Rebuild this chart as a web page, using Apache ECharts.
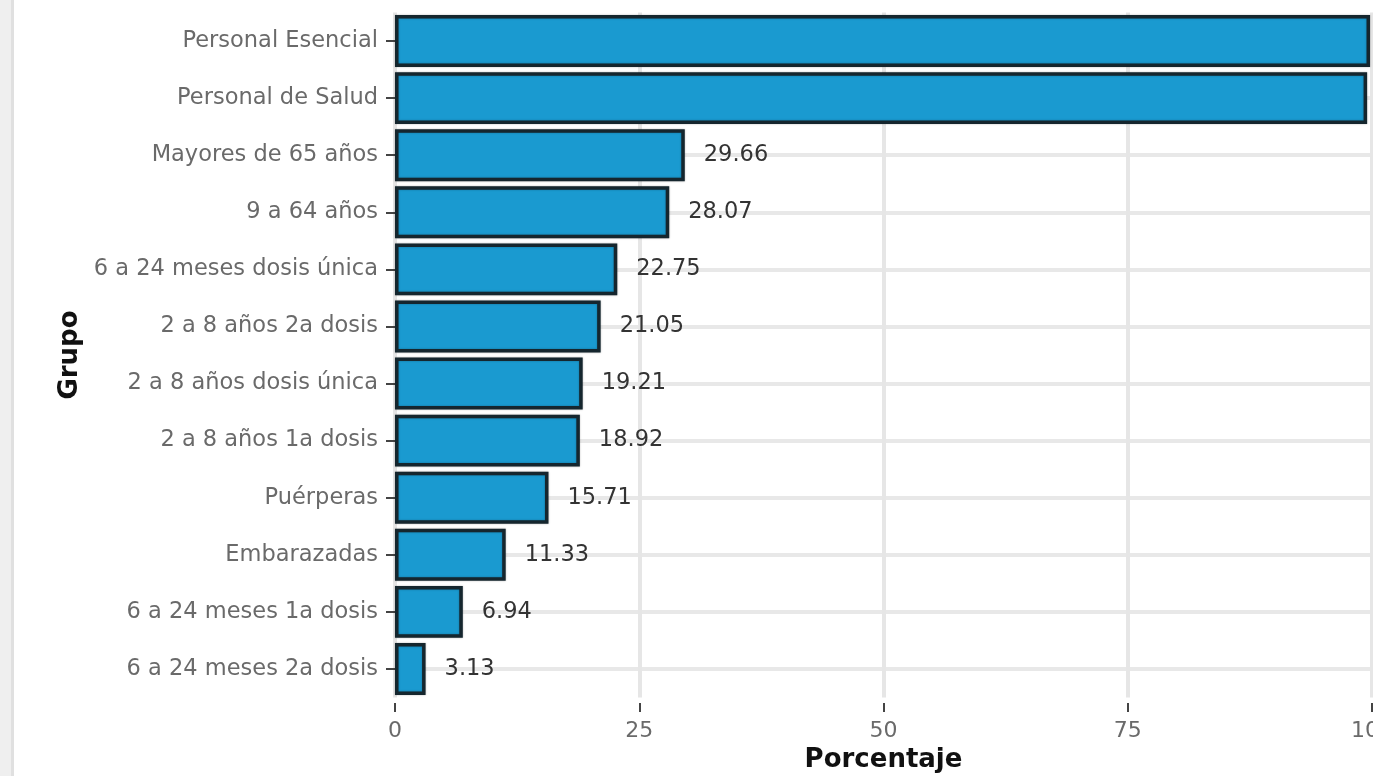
<!DOCTYPE html>
<html>
<head>
<meta charset="utf-8">
<script src="https://cdn.jsdelivr.net/npm/echarts@6/dist/echarts.min.js"></script>
<style>
html,body{margin:0;padding:0;background:#fff;}
#chart{width:1373px;height:776px;}
</style>
</head>
<body>
<div id="chart"></div>
<script>
const categories = ['Personal Esencial', 'Personal de Salud', 'Mayores de 65 años', '9 a 64 años',
  '6 a 24 meses dosis única', '2 a 8 años 2a dosis', '2 a 8 años dosis única', '2 a 8 años 1a dosis',
  'Puérperas', 'Embarazadas', '6 a 24 meses 1a dosis', '6 a 24 meses 2a dosis'];
const values = [99.8, 99.5, 29.66, 28.07, 22.75, 21.05, 19.21, 18.92, 15.71, 11.33, 6.94, 3.13];
const xTicks = [0, 25, 50, 75, 100];

const FONT = 'DejaVu Sans';
const chart = echarts.init(document.getElementById('chart'), null, {renderer: 'canvas'});
chart.setOption({
  animation: false,
  backgroundColor: '#ffffff',
  graphic: [
    {type: 'rect', left: 0, top: 0, shape: {width: 11, height: 776}, style: {fill: '#efefef'}, silent: true},
    {type: 'rect', left: 11, top: 0, shape: {width: 3, height: 776}, style: {fill: '#e0e0e0'}, silent: true}
  ],
  grid: {left: 395, right: 1, top: 12.5, bottom: 78.5, containLabel: false, outerBoundsMode: 'none'},
  xAxis: {
    type: 'value', min: xTicks[0], max: xTicks[xTicks.length - 1], interval: 25,
    offset: 5.5,
    name: 'Porcentaje', nameLocation: 'middle', nameGap: 41,
    nameTextStyle: {fontFamily: FONT, fontSize: 26, fontWeight: 'bold', color: '#111'},
    axisLine: {show: false},
    axisTick: {show: true, length: 9, lineStyle: {color: '#444', width: 2}},
    axisLabel: {margin: 17, fontFamily: FONT, fontSize: 22, color: '#6a6a6a'},
    splitLine: {show: true, lineStyle: {color: '#e6e6e6', width: 4}}
  },
  yAxis: {
    type: 'category', inverse: true, data: categories,
    name: 'Grupo', nameLocation: 'middle', nameRotate: 90, nameGap: 307,
    nameTextStyle: {fontFamily: FONT, fontSize: 26, fontWeight: 'bold', color: '#111'},
    axisLine: {show: false},
    axisTick: {show: true, alignWithLabel: true, length: 9, lineStyle: {color: '#444', width: 2}},
    axisLabel: {margin: 17, fontFamily: FONT, fontSize: 22.5, color: '#6a6a6a'},
    splitLine: {show: true, alignWithLabel: true, lineStyle: {color: '#e8e8e8', width: 4}}
  },
  series: [{
    type: 'bar',
    data: values,
    barCategoryGap: '9%',
    itemStyle: {color: '#1a9ad0', borderColor: '#15262e', borderWidth: 3.5,
      shadowColor: 'rgba(0,0,0,0.3)', shadowBlur: 2},
    label: {
      show: true, position: 'right', distance: 19,
      fontFamily: FONT, fontSize: 22.5, color: '#333',
      formatter: p => p.value.toFixed(2)
    }
  }]
});
</script>
</body>
</html>
